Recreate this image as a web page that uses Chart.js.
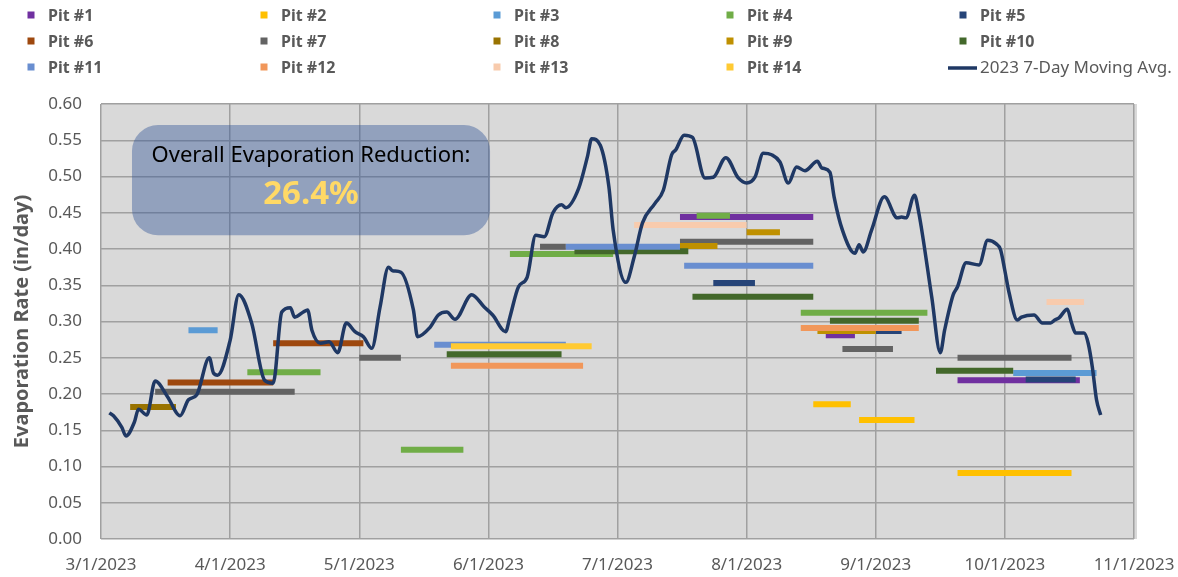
<!DOCTYPE html>
<html>
<head>
<meta charset="utf-8">
<script src="https://cdn.jsdelivr.net/npm/chart.js@4.4.1/dist/chart.umd.min.js"></script>
<style>
  html, body { margin: 0; padding: 0; background: #fff; }
  #wrap { width: 1178px; height: 577px; }
</style>
</head>
<body>
<div id="wrap"><canvas id="evap-chart" width="1178" height="577"></canvas></div>
<script>
// x axis tick labels (one per month)
const tickLabels = ['3/1/2023', '4/1/2023', '5/1/2023', '6/1/2023', '7/1/2023',
    '8/1/2023', '9/1/2023', '10/1/2023', '11/1/2023'];

// 2023 7-day moving average
const avgDates = ['3/3', '3/4', '3/6', '3/7', '3/9', '3/10', '3/12', '3/14', '3/17', '3/20',
    '3/22', '3/24', '3/27', '3/28', '3/29', '4/1', '4/3', '4/6', '4/9', '4/11',
    '4/13', '4/15', '4/16', '4/18', '4/19', '4/20', '4/22', '4/24', '4/26', '4/28',
    '4/30', '5/2', '5/4', '5/6', '5/8', '5/9', '5/11', '5/14', '5/15', '5/18',
    '5/20', '5/22', '5/24', '5/28', '5/31', '6/2', '6/5', '6/6', '6/8', '6/10',
    '6/12', '6/14', '6/16', '6/18', '6/19', '6/22', '6/24', '6/25', '6/27', '6/29',
    '6/30', '7/3', '7/5', '7/7', '7/10', '7/12', '7/14', '7/15', '7/17', '7/19',
    '7/22', '7/24', '7/27', '7/30', '8/1', '8/3', '8/5', '8/7', '8/9', '8/11',
    '8/13', '8/15', '8/18', '8/19', '8/21', '8/22', '8/24', '8/27', '8/28', '8/29',
    '8/31', '9/3', '9/6', '9/7', '9/8', '9/10', '9/11', '9/14', '9/16', '9/17',
    '9/19', '9/20', '9/22', '9/25', '9/27', '9/29', '9/30', '10/1', '10/2', '10/4',
    '10/5', '10/8', '10/10', '10/12', '10/13', '10/14', '10/16', '10/17', '10/18', '10/20',
    '10/21', '10/22', '10/23', '10/24'];
const avgValues = [0.174, 0.170, 0.154, 0.142, 0.161, 0.179, 0.171, 0.218, 0.196, 0.170,
    0.192, 0.199, 0.250, 0.229, 0.226, 0.274, 0.337, 0.298, 0.219, 0.215,
    0.313, 0.319, 0.306, 0.313, 0.316, 0.288, 0.270, 0.272, 0.257, 0.298,
    0.286, 0.279, 0.263, 0.320, 0.375, 0.370, 0.368, 0.316, 0.279, 0.292,
    0.309, 0.313, 0.303, 0.337, 0.320, 0.309, 0.286, 0.306, 0.348, 0.361,
    0.419, 0.417, 0.450, 0.461, 0.457, 0.484, 0.527, 0.552, 0.543, 0.486,
    0.426, 0.354, 0.389, 0.436, 0.463, 0.481, 0.530, 0.537, 0.557, 0.554,
    0.498, 0.499, 0.526, 0.498, 0.491, 0.499, 0.532, 0.530, 0.520, 0.491,
    0.513, 0.508, 0.521, 0.512, 0.506, 0.472, 0.426, 0.394, 0.406, 0.396,
    0.426, 0.472, 0.443, 0.444, 0.443, 0.474, 0.450, 0.334, 0.257, 0.288,
    0.337, 0.348, 0.381, 0.378, 0.412, 0.407, 0.399, 0.370, 0.340, 0.302,
    0.306, 0.309, 0.298, 0.298, 0.302, 0.305, 0.317, 0.298, 0.284, 0.284,
    0.270, 0.237, 0.192, 0.171];

// each pit: list of [start, end, rate]
const pitNames = ['Pit #1', 'Pit #2', 'Pit #3', 'Pit #4', 'Pit #5', 'Pit #6', 'Pit #7',
    'Pit #8', 'Pit #9', 'Pit #10', 'Pit #11', 'Pit #12', 'Pit #13', 'Pit #14'];
const pitSegments = [
    [['7/16', '8/17', 0.444], ['8/20', '8/27', 0.281], ['9/20', '10/19', 0.219]],
    [['8/17', '8/26', 0.186], ['8/28', '9/10', 0.164], ['9/20', '10/17', 0.091]],
    [['3/22', '3/29', 0.288], ['10/3', '10/23', 0.229]],
    [['4/5', '4/22', 0.230], ['5/11', '5/26', 0.123], ['6/6', '6/30', 0.393],
        ['7/20', '7/28', 0.446], ['8/14', '9/13', 0.312]],
    [['7/24', '8/3', 0.353], ['9/1', '9/7', 0.287], ['10/6', '10/18', 0.220]],
    [['3/17', '4/11', 0.216], ['4/11', '5/2', 0.270]],
    [['3/14', '4/16', 0.203], ['5/1', '5/11', 0.250], ['6/13', '6/19', 0.403],
        ['7/16', '8/17', 0.410], ['8/24', '9/5', 0.262], ['9/20', '10/17', 0.250]],
    [['3/8', '3/19', 0.182]],
    [['7/16', '7/25', 0.404], ['8/1', '8/9', 0.423], ['8/18', '9/1', 0.287]],
    [['5/22', '6/18', 0.255], ['6/21', '7/18', 0.397], ['7/19', '8/17', 0.334],
        ['8/21', '9/11', 0.301], ['9/15', '10/3', 0.232]],
    [['5/19', '6/19', 0.268], ['6/19', '7/16', 0.403], ['7/17', '8/17', 0.377]],
    [['5/23', '6/23', 0.239], ['8/14', '9/11', 0.291]],
    [['7/5', '8/1', 0.433], ['10/11', '10/20', 0.327]],
    [['5/23', '6/25', 0.266]]
];
const pitColors = ['#7030A0', '#FFC000', '#5B9BD5', '#70AD47', '#264478', '#9E480E', '#636363',
    '#997300', '#BF9000', '#43682B', '#698ED0', '#F1975A', '#F8CBAD', '#FFCA33'];

const avgLabel = '2023 7-Day Moving Avg.';
const avgColor = '#1F3864';
const textGray = '#595959';

// months are drawn with equal width, so a date becomes month index + fraction
const daysInMonth = { 3: 31, 4: 30, 5: 31, 6: 30, 7: 31, 8: 31, 9: 30, 10: 31, 11: 30 };
function toPos(md) {
    const [m, d] = md.split('/').map(Number);
    return (m - 3) + (d - 1) / daysInMonth[m];
}

function segmentData(segs) {
    const pts = [];
    segs.forEach(([a, b, v]) => {
        pts.push({ x: toPos(a), y: v });
        pts.push({ x: toPos(b), y: v });
        pts.push({ x: toPos(b), y: null });
    });
    return pts;
}

const datasets = pitNames.map((name, i) => ({
    label: name,
    data: segmentData(pitSegments[i]),
    borderColor: pitColors[i],
    backgroundColor: pitColors[i],
    borderWidth: 6,
    borderCapStyle: 'butt',
    pointRadius: 0,
    spanGaps: false,
    tension: 0,
    order: 15 - i
}));
datasets.push({
    label: avgLabel,
    data: avgDates.map((d, i) => ({ x: toPos(d), y: avgValues[i] })),
    borderColor: avgColor,
    backgroundColor: avgColor,
    borderWidth: 3.5,
    pointRadius: 0,
    cubicInterpolationMode: 'monotone',
    order: 0
});

const plotBackground = {
    id: 'plotBackground',
    beforeDraw(chart) {
        const { ctx, chartArea: a } = chart;
        ctx.save();
        ctx.fillStyle = '#D9D9D9';
        ctx.fillRect(a.left, a.top, a.right - a.left + 3, a.bottom - a.top);
        ctx.restore();
    }
};

// rounded callout with the overall reduction
const reductionBox = {
    id: 'reductionBox',
    afterDatasetsDraw(chart) {
        const { ctx, scales: { x, y } } = chart;
        const left = x.getPixelForValue(0.24), right = x.getPixelForValue(3.013);
        const top = y.getPixelForValue(0.571), bottom = y.getPixelForValue(0.419);
        ctx.save();
        ctx.fillStyle = 'rgba(47, 84, 150, 0.42)';
        ctx.beginPath();
        ctx.roundRect(left, top, right - left, bottom - top, 26);
        ctx.fill();
        const cx = (left + right) / 2;
        ctx.textAlign = 'center';
        ctx.textBaseline = 'middle';
        ctx.fillStyle = '#000';
        ctx.font = "22px 'Noto Sans'";
        ctx.fillText('Overall Evaporation Reduction:', cx, top + 31);
        ctx.fillStyle = '#FFD966';
        ctx.font = "bold 33px 'Noto Sans'";
        ctx.fillText('26.4%', cx, top + 70);
        ctx.restore();
    }
};

// legend laid out as a 5-column grid like the original
const gridLegend = {
    id: 'gridLegend',
    afterDraw(chart) {
        const { ctx } = chart;
        const colX = [31, 264, 497, 730, 963];
        const rowY = [15, 41, 67];
        ctx.save();
        ctx.textBaseline = 'middle';
        ctx.textAlign = 'left';
        chart.data.datasets.forEach((ds, i) => {
            const cx = colX[i % 5];
            const cy = rowY[Math.floor(i / 5)];
            ctx.fillStyle = ds.borderColor;
            if (ds.label === avgLabel) {
                ctx.strokeStyle = ds.borderColor;
                ctx.lineWidth = 3.5;
                ctx.beginPath();
                ctx.moveTo(cx - 15, cy + 1);
                ctx.lineTo(cx + 14, cy + 1);
                ctx.stroke();
                ctx.fillStyle = textGray;
                ctx.font = "17px 'Noto Sans'";
                ctx.fillText(ds.label, cx + 17, cy + 1);
            } else {
                ctx.fillRect(cx - 3.5, cy - 3.5, 7, 7);
                ctx.fillStyle = textGray;
                ctx.font = "bold 16px 'Noto Sans'";
                ctx.fillText(ds.label, cx + 17, cy + 1);
            }
        });
        ctx.restore();
    }
};

Chart.defaults.font.family = "'Noto Sans', sans-serif";
Chart.defaults.color = textGray;

const ctx = document.getElementById('evap-chart').getContext('2d');
const evapChart = new Chart(ctx, {
    type: 'line',
    data: { datasets: datasets },
    options: {
        responsive: false,
        animation: false,
        devicePixelRatio: 1,
        layout: { padding: { top: 104, right: 44, left: 0, bottom: 0 } },
        plugins: {
            legend: { display: false },
            tooltip: { enabled: false }
        },
        scales: {
            x: {
                type: 'linear',
                min: 0,
                max: 8,
                afterFit: (scale) => {
                    scale.height = 38;
                    scale.paddingLeft = 0;
                    scale.paddingRight = 0;
                },
                grid: { color: '#A0A0A0', lineWidth: 1.5, drawTicks: false },
                border: { display: false },
                ticks: {
                    stepSize: 1,
                    padding: 16,
                    maxRotation: 0,
                    autoSkip: false,
                    font: { size: 17 },
                    color: textGray,
                    callback: (v) => tickLabels[v]
                }
            },
            y: {
                min: 0,
                max: 0.6,
                afterFit: (scale) => { scale.width = 101; },
                grid: { color: '#A0A0A0', lineWidth: 1.5, drawTicks: false },
                border: { display: false },
                ticks: {
                    stepSize: 0.05,
                    padding: 19,
                    font: { size: 17 },
                    color: textGray,
                    callback: (v) => v.toFixed(2)
                },
                title: {
                    display: true,
                    text: 'Evaporation Rate (in/day)',
                    color: textGray,
                    font: { size: 20, weight: 'bold' },
                    padding: { top: 10, bottom: 0 }
                }
            }
        }
    },
    plugins: [plotBackground, reductionBox, gridLegend]
});
</script>
</body>
</html>
